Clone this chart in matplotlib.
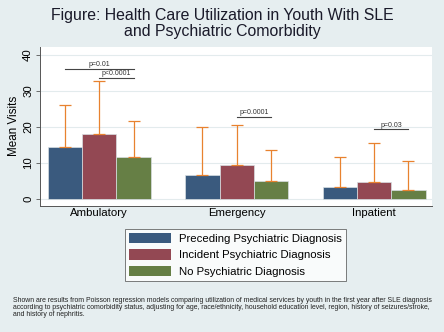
import matplotlib
matplotlib.use("Agg")
import matplotlib.pyplot as plt
from matplotlib.patches import Patch
import numpy as np

plt.rcParams['font.family'] = ['Liberation Sans', 'DejaVu Sans']

categories = ["Ambulatory", "Emergency", "Inpatient"]
series = ["Preceding Psychiatric Diagnosis", "Incident Psychiatric Diagnosis", "No Psychiatric Diagnosis"]
means = {
    "Preceding Psychiatric Diagnosis": [14.3, 6.8, 3.4],
    "Incident Psychiatric Diagnosis": [18.0, 9.4, 4.8],
    "No Psychiatric Diagnosis": [11.6, 5.0, 2.6],
}
upper = {
    "Preceding Psychiatric Diagnosis": [26.1, 20.0, 11.7],
    "Incident Psychiatric Diagnosis": [32.8, 20.4, 15.6],
    "No Psychiatric Diagnosis": [21.6, 13.7, 10.6],
}
colors = ["#3a5a7e", "#934853", "#667f45"]
# p-value brackets: (category index, series from, series to, y, label)
pvals = [
    (0, 0, 2, 36.1, "p=0.01"),
    (0, 1, 2, 33.5, "p<0.0001"),
    (1, 1, 2, 22.8, "p=0.0001"),
    (2, 1, 2, 19.3, "p=0.03"),
]
footnote = ("Shown are results from Poisson regression models comparing utilization of medical services by youth in the first year after SLE diagnosis\n"
            "according to psychiatric comorbidity status, adjusting for age, race/ethnicity, household education level, region, history of seizures/stroke,\n"
            "and history of nephritis.")

bg = "#e6eef0"
fig = plt.figure(figsize=(4.44, 3.32), dpi=100, facecolor=bg)
ax = fig.add_axes([40/444, 1-206/332, (432-40)/444, (206-46.7)/332])
ax.set_facecolor("white")

centers = np.arange(len(categories)) * 4.0
for j, s in enumerate(series):
    x = centers + (j - 1)
    v = np.array(means[s])
    u = np.array(upper[s])
    ax.bar(x, v, width=1.0, color=colors[j], edgecolor="#d8dfe2", linewidth=0.5, zorder=2)
    ax.errorbar(x, v, yerr=[np.zeros_like(v), u - v], fmt="none", ecolor="#e8822f",
                elinewidth=0.9, capsize=4.3, capthick=0.9, zorder=3)

for ci, a, b, y, lab in pvals:
    x0 = centers[ci] + (a - 1)
    x1 = centers[ci] + (b - 1)
    ax.plot([x0, x1], [y, y], color="#444444", lw=0.8, zorder=4)
    ax.text((x0 + x1) / 2, y + 0.2, lab, ha="center", va="bottom", fontsize=5.0, color="#333333")

ax.set_xlim(-1.726, 9.685)
ax.set_ylim(-1.9, 42.2)
ax.set_yticks([0, 10, 20, 30, 40])
ax.set_yticklabels(["0", "10", "20", "30", "40"], rotation=90, va="center", fontsize=8.2)
ax.set_xticks(centers)
ax.set_xticklabels(categories, fontsize=8.2)
ax.tick_params(axis="x", length=0, pad=1.5)
ax.tick_params(axis="y", length=3, width=0.6, color="#555555", pad=2)
ax.grid(axis="y", color="#e3ebed", lw=0.8, zorder=0)
ax.set_axisbelow(True)
for sp in ["top", "right"]:
    ax.spines[sp].set_visible(False)
for sp in ["left", "bottom"]:
    ax.spines[sp].set_color("#555555")
    ax.spines[sp].set_linewidth(0.7)
ax.set_ylabel("Mean Visits", fontsize=8.4, labelpad=2)

fig.text(0.5, 1-15.5/332, "Figure: Health Care Utilization in Youth With SLE", ha="center", va="center", fontsize=11.4, color="#1a1a2a")
fig.text(0.5, 1-31.5/332, "and Psychiatric Comorbidity", ha="center", va="center", fontsize=11.4, color="#1a1a2a")

handles = [Patch(facecolor=c, edgecolor="none") for c in colors]
leg = fig.legend(handles, series, loc="upper left", bbox_to_anchor=(125/444, 1-229/332),
                 fontsize=8.2, frameon=True, fancybox=False, edgecolor="#444444",
                 handlelength=3.7, handleheight=1.0, handletextpad=0.75, labelspacing=0.5,
                 borderpad=0.32, borderaxespad=0)
leg.get_frame().set_linewidth(0.6)

fig.text(13/444, 1-296.5/332, footnote, ha="left", va="top", fontsize=4.95, color="#222222", linespacing=1.1)

fig.savefig("out.png", dpi=100, facecolor=bg)
